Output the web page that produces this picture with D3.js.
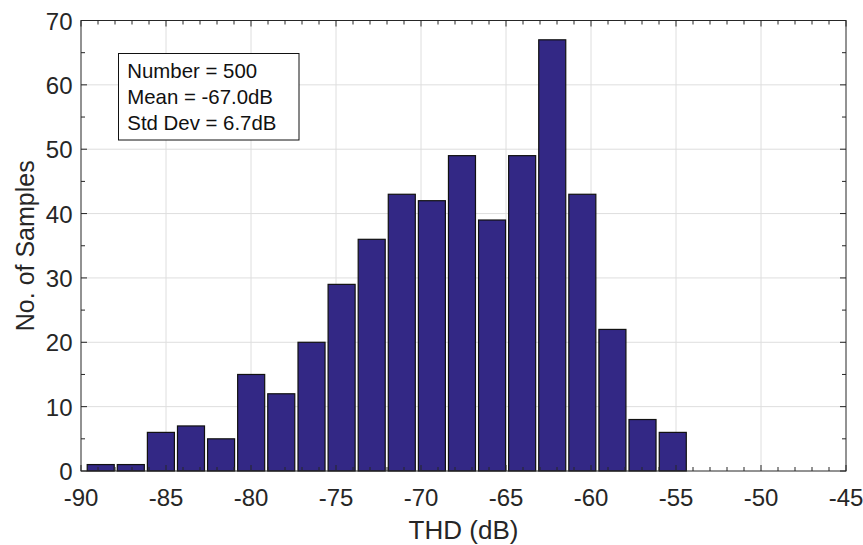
<!DOCTYPE html>
<html><head><meta charset="utf-8">
<script src="https://cdn.jsdelivr.net/npm/d3@7"></script>
<style>body{margin:0;background:#fff}svg{display:block;font-family:"Liberation Sans",Arial,Helvetica,sans-serif}</style>
</head><body><svg id="c" width="863" height="545"></svg>
<script>
const binCenters = [-88.84,-87.07,-85.30,-83.53,-81.76,-79.99,-78.22,-76.44,-74.67,-72.90,-71.13,-69.36,-67.59,-65.82,-64.05,-62.28,-60.51,-58.74,-56.97,-55.19];
const counts = [1,1,6,7,5,15,12,20,29,36,43,42,49,39,49,67,43,22,8,6];
const binWidth = 1.59;
const xTicks = [-90,-85,-80,-75,-70,-65,-60,-55,-50,-45];
const yTicks = [0,10,20,30,40,50,60,70];
const statLines = ["Number = 500","Mean = -67.0dB","Std Dev = 6.7dB"];

const svg = d3.select("#c");
const L=81, R=846, T=20.5, B=471;
const x = d3.scaleLinear().domain([-90,-45]).range([L,R]);
const y = d3.scaleLinear().domain([0,70]).range([B,T]);
const axisCol="#262626", gridCol="#dedede";

// grid
const g = svg.append("g");
g.selectAll(".gx").data(xTicks.slice(1,-1)).join("line")
 .attr("x1",d=>x(d)).attr("x2",d=>x(d)).attr("y1",T).attr("y2",B)
 .attr("stroke",gridCol).attr("stroke-width",1);
g.selectAll(".gy").data(yTicks.slice(1,-1)).join("line")
 .attr("y1",d=>y(d)).attr("y2",d=>y(d)).attr("x1",L).attr("x2",R)
 .attr("stroke",gridCol).attr("stroke-width",1);

// bars
svg.append("g").selectAll("rect").data(counts).join("rect")
 .attr("x",(d,i)=>x(binCenters[i]-binWidth/2))
 .attr("width",(d,i)=>x(binCenters[i]+binWidth/2)-x(binCenters[i]-binWidth/2))
 .attr("y",d=>y(d)).attr("height",d=>B-y(d))
 .attr("fill","#332885").attr("stroke","#111").attr("stroke-width",1.2);

// axes
const xMinor = d3.range(-89,-45,1).filter(v=>v%5!==0);
const yMinor = d3.range(5,70,10);
const ax = svg.append("g").attr("stroke",axisCol).attr("stroke-width",1);
ax.append("rect").attr("x",L).attr("y",T).attr("width",R-L).attr("height",B-T).attr("fill","none");
[[B,-1],[T,1]].forEach(([yy,s])=>{
  ax.selectAll(null).data(xTicks).join("line").attr("x1",d=>x(d)).attr("x2",d=>x(d)).attr("y1",yy).attr("y2",yy+s*6);
  ax.selectAll(null).data(xMinor).join("line").attr("x1",d=>x(d)).attr("x2",d=>x(d)).attr("y1",yy).attr("y2",yy+s*4);
});
[[L,1],[R,-1]].forEach(([xx,s])=>{
  ax.selectAll(null).data(yTicks).join("line").attr("y1",d=>y(d)).attr("y2",d=>y(d)).attr("x1",xx).attr("x2",xx+s*6);
  ax.selectAll(null).data(yMinor).join("line").attr("y1",d=>y(d)).attr("y2",d=>y(d)).attr("x1",xx).attr("x2",xx+s*4);
});

// tick labels
svg.append("g").selectAll("text").data(xTicks).join("text")
 .attr("x",d=>x(d)).attr("y",B+34.5).attr("text-anchor","middle")
 .attr("font-size",24).attr("fill",axisCol).text(d=>d);
svg.append("g").selectAll("text").data(yTicks).join("text")
 .attr("x",L-8.5).attr("y",d=>y(d)+9).attr("text-anchor","end")
 .attr("font-size",24).attr("fill",axisCol).text(d=>d);

// axis labels
svg.append("text").attr("x",(L+R)/2).attr("y",539).attr("text-anchor","middle")
 .attr("font-size",26).attr("fill",axisCol).text("THD (dB)");
svg.append("text").attr("transform",`translate(34,${(T+B)/2}) rotate(-90)`).attr("text-anchor","middle")
 .attr("font-size",25).attr("fill",axisCol).text("No. of Samples");

// stats box
svg.append("rect").attr("x",118.5).attr("y",53.5).attr("width",180.5).attr("height",86.5)
 .attr("fill","#fff").attr("stroke","#111").attr("stroke-width",1);
svg.append("g").selectAll("text").data(statLines).join("text")
 .attr("x",127.3).attr("y",(d,i)=>78.3+i*26).attr("font-size",20.4).attr("fill","#111").text(d=>d);
</script></body></html>
